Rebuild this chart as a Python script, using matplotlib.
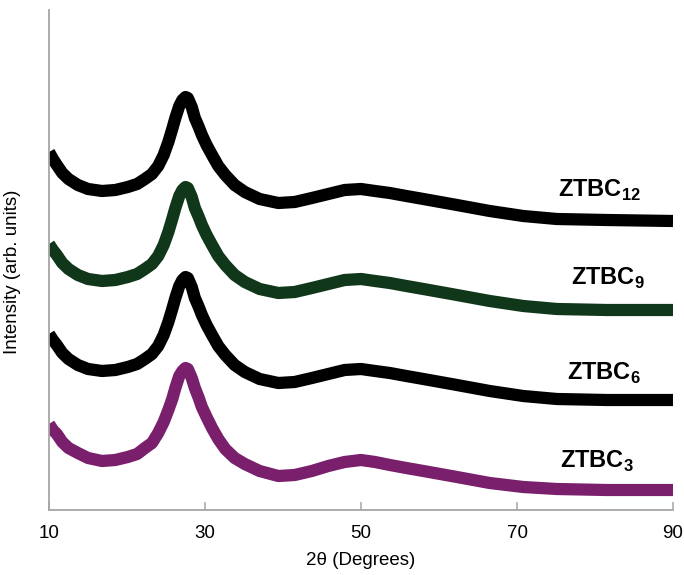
import matplotlib
matplotlib.use('Agg')
import matplotlib.pyplot as plt

plt.rcParams['font.family'] = ['Liberation Sans', 'DejaVu Sans']
plt.rcParams['mathtext.fontset'] = 'custom'
plt.rcParams['mathtext.rm'] = 'Liberation Sans'
plt.rcParams['mathtext.bf'] = 'Liberation Sans:bold'

# 2-theta grid (degrees)
two_theta = [10, 10.5, 11, 11.7, 12.5, 13.7, 15.0, 16.8, 18.5, 20.1,
             21.3, 22.3, 23.2, 24.0, 24.7, 25.3, 25.8, 26.2, 26.7, 27.1,
             27.5, 27.8, 28.3, 28.7, 29.2, 29.6, 30.2, 30.9, 31.7, 32.6,
             33.8, 35.1, 37.0, 39.4, 41.5, 43.7, 45.8, 47.9, 50.0, 51.8,
             53.7, 55.8, 58.0, 62.3, 66.5, 70.8, 75.1, 81.5, 90]

# stacked intensities (arb. units, offsets included as plotted)
ztbc12 = [358, 351, 345, 337, 331, 325, 321, 319, 320, 323,
          326, 331, 336, 344, 355, 368, 381, 392, 404, 410,
          413, 412, 403, 392, 383, 375, 365, 355, 344, 335,
          325, 318, 311, 307, 308, 312, 316, 320, 321, 319,
          317, 314, 311, 305, 299, 294, 291, 290, 289]
ztbc9 = [266, 260, 255, 247, 241, 235, 231, 229, 230, 233,
         236, 241, 246, 254, 265, 278, 291, 302, 314, 320,
         323, 322, 313, 302, 293, 285, 275, 265, 254, 245,
         235, 228, 221, 217, 218, 222, 226, 230, 231, 229,
         227, 224, 221, 215, 209, 204, 201, 200, 200]
ztbc6 = [176, 170, 165, 157, 151, 145, 141, 139, 140, 143,
         146, 151, 156, 164, 175, 188, 201, 212, 224, 230,
         233, 232, 223, 212, 203, 195, 185, 175, 164, 155,
         145, 138, 131, 127, 128, 132, 136, 140, 141, 139,
         137, 134, 131, 125, 119, 114, 111, 110, 110]
ztbc3 = [86, 80, 76, 68, 62, 57, 52, 49, 50, 53,
         56, 62, 67, 77, 88, 100, 111, 122, 134, 139,
         142, 141, 132, 122, 112, 103, 93, 82, 71, 61,
         52, 46, 39, 34, 35, 39, 44, 48, 50, 48,
         45, 42, 39, 33, 27, 23, 21, 20, 20]

series = [ztbc12, ztbc9, ztbc6, ztbc3]
labels = [r'ZTBC$_\mathbf{12}$', r'ZTBC$_\mathbf{9}$', r'ZTBC$_\mathbf{6}$', r'ZTBC$_\mathbf{3}$']
colors = ['#000000', '#10371a', '#000000', '#7a1f6c']
label_pos = [(75.3, 313), (76.9, 225), (76.4, 130), (75.5, 42)]

fig = plt.figure(figsize=(6.84, 5.75), dpi=100)
fig.patch.set_facecolor('white')
ax = fig.add_axes([49 / 684, 65 / 575, 624 / 684, 500 / 575])

for y, c in zip(series, colors):
    ax.plot(two_theta, y, color=c, linewidth=8.8, solid_joinstyle='round',
            solid_capstyle='butt')

for lab, (lx, ly) in zip(labels, label_pos):
    ax.text(lx, ly, lab, fontsize=17, fontweight='bold', ha='left', va='baseline')

ax.set_xlim(10, 90)
ax.set_ylim(0, 500)
ax.set_xticks([10, 30, 50, 70, 90])
ax.set_yticks([])

for side in ['top', 'right']:
    ax.spines[side].set_visible(False)
for side in ['left', 'bottom']:
    ax.spines[side].set_color('#a6a6a6')
    ax.spines[side].set_linewidth(1.3)

ax.tick_params(axis='x', direction='in', length=6, width=1.1, color='#a6a6a6',
               labelsize=13.5, pad=11)

ax.set_xlabel('2\u03b8 (Degrees)', fontsize=13.5, labelpad=7)
ax.set_ylabel('Intensity (arb. units)', fontsize=13.5)
ax.yaxis.set_label_coords(-0.045, 0.476)

fig.savefig('out.png', dpi=100, facecolor=fig.get_facecolor())
